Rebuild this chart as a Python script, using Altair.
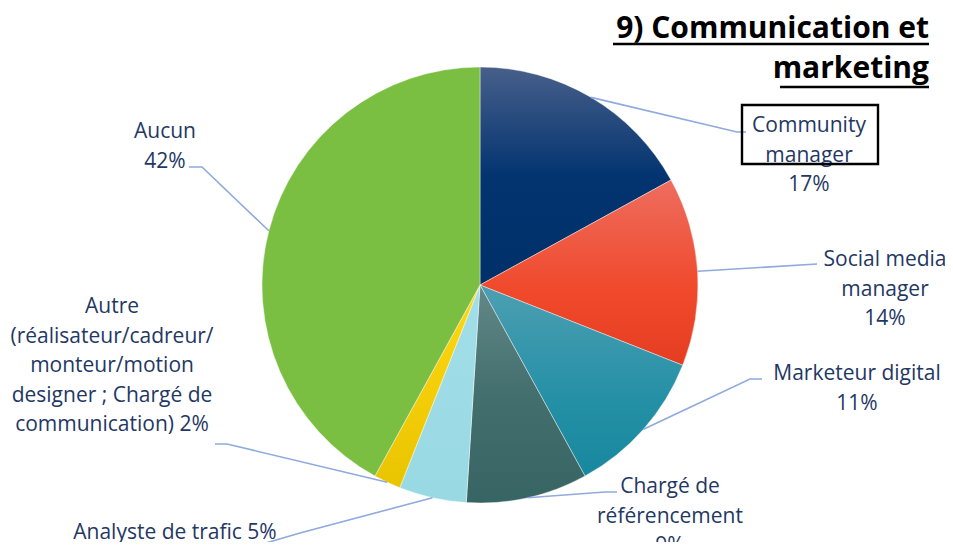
import math
import numpy as np
import pandas as pd
import altair as alt

# ---------------- data ----------------
categories = [
    "Community manager",
    "Social media manager",
    "Marketeur digital",
    "Chargé de référencement",
    "Analyste de trafic",
    "Autre (réalisateur/cadreur/monteur/motion designer ; Chargé de communication)",
    "Aucun",
]
percentages = [17, 14, 11, 9, 5, 2, 42]
label_names = [
    "Community\nmanager",
    "Social media\nmanager",
    "Marketeur digital",
    "Chargé de\nréférencement",
    "Analyste de trafic",
    "Autre\n(réalisateur/cadreur/\nmonteur/motion\ndesigner ; Chargé de\ncommunication)",
    "Aucun",
]
pct_separator = ["\n", "\n", "\n", "\n", " ", " ", "\n"]
title_lines = ["9) Communication et", "marketing"]

# ---------------- styles / layout ----------------
OFF = 8  # page margin
CX, CY, R = 480 - OFF, 285 - OFF, 218
W, H = 937, 534
TEXT_COLOR = "#1F3864"
LEADER_COLOR = "#8FAADC"
FONT = "Open Sans"


def vgrad(stops):
    return {
        "gradient": "linear", "x1": 0, "y1": 0, "x2": 0, "y2": 1,
        "stops": [{"offset": o, "color": c} for o, c in stops],
    }


fills = [
    vgrad([(0, "#475F8A"), (0.5, "#033470"), (1, "#003068")]),
    vgrad([(0, "#EE6D5F"), (0.6, "#F0492B"), (1, "#E43D21")]),
    vgrad([(0, "#4D9FB2"), (0.6, "#2490A6"), (1, "#18889E")]),
    vgrad([(0, "#638888"), (0.5, "#436F6E"), (1, "#376563")]),
    vgrad([(0, "#A2DEE8"), (1, "#98D9E4")]),
    vgrad([(0, "#FFD812"), (1, "#E9C400")]),
    vgrad([(0, "#7ABF42"), (1, "#7ABF42")]),
]

# label anchors (page coordinates: centre x, first baseline y)
label_pos = [(809, 132), (885, 266), (857, 380), (670, 493), (175, 539), (112, 313), (165, 138)]
# leader lines: points after the slice edge (page coordinates)
leader_pts = [
    [(737, 132), (746, 132)],
    [(817, 264)],
    [(750, 379), (762, 379)],
    [(605, 492), (617, 492)],
    [(300, 533), (235, 552)],
    [(227, 444), (215, 444)],
    [(202, 167), (189, 167)],
]

# ---------------- tables ----------------
vals = np.array(percentages, dtype=float)
ends = np.cumsum(vals)
starts = ends - vals
df = pd.DataFrame({
    "category": categories,
    "value": vals,
    "start": starts,
    "end": ends,
    "order": list(range(len(categories))),
})

lab = pd.DataFrame({
    "text": [f"{n}{s}{p}%" for n, s, p in zip(label_names, pct_separator, percentages)],
    "lx": [p[0] - OFF for p in label_pos],
    "ly": [p[1] - OFF for p in label_pos],
})

rows = []
for i in range(len(categories)):
    mid = (starts[i] + ends[i]) / 2 / 100 * 2 * math.pi
    sx = CX + R * math.sin(mid)
    sy = CY - R * math.cos(mid)
    pts = [(sx, sy)] + [(x - OFF, y - OFF) for x, y in leader_pts[i]]
    for k, (x, y) in enumerate(pts):
        rows.append({"seg": i, "k": k, "px": x, "py": y})
lead = pd.DataFrame(rows)

theta_scale = alt.Scale(domain=[0, 100], range=[0, 2 * math.pi])

layers = []
for i in range(len(categories)):
    layers.append(
        alt.Chart(df)
        .transform_filter(alt.datum.order == i)
        .mark_arc(radius=R, fill=fills[i], stroke="#FFFFFF", strokeWidth=0.6, strokeOpacity=0.7)
        .encode(
            theta=alt.Theta("start:Q", scale=theta_scale),
            theta2="end:Q",
            x=alt.value(CX),
            y=alt.value(CY),
            tooltip=["category:N", "value:Q"],
        )
    )

leaders = alt.Chart(lead).mark_line(color=LEADER_COLOR, strokeWidth=1.6).encode(
    x=alt.X("px:Q", scale=None, axis=None),
    y=alt.Y("py:Q", scale=None, axis=None),
    detail="seg:N",
    order="k:Q",
)

labels = alt.Chart(lab).mark_text(
    font=FONT, fontSize=21, color=TEXT_COLOR, align="center",
    baseline="alphabetic", lineBreak="\n", lineHeight=29.5,
).encode(
    x=alt.X("lx:Q", scale=None, axis=None),
    y=alt.Y("ly:Q", scale=None, axis=None),
    text="text:N",
)

box = alt.Chart(pd.DataFrame({"a": [0]})).mark_rect(
    fill=None, stroke="#000000", strokeWidth=2.4
).encode(
    x=alt.value(742 - OFF), x2=alt.value(878 - OFF),
    y=alt.value(105 - OFF), y2=alt.value(164 - OFF),
)

title = alt.Chart(pd.DataFrame({"t": ["\n".join(title_lines)]})).mark_text(
    font=FONT, fontSize=30, fontWeight="bold", color="#000000", align="right",
    baseline="alphabetic", lineBreak="\n", lineHeight=40,
).encode(
    x=alt.value(929 - OFF), y=alt.value(38 - OFF), text="t:N",
)

underline1 = alt.Chart(pd.DataFrame({"a": [0]})).mark_rule(color="#000000", strokeWidth=2.6).encode(
    x=alt.value(613 - OFF), x2=alt.value(929 - OFF), y=alt.value(44 - OFF)
)
underline2 = alt.Chart(pd.DataFrame({"a": [0]})).mark_rule(color="#000000", strokeWidth=2.6).encode(
    x=alt.value(780 - OFF), x2=alt.value(929 - OFF), y=alt.value(87 - OFF)
)

chart = alt.layer(*layers, leaders, labels, box, title, underline1, underline2).properties(
    width=W, height=H, autosize="none", padding=0
).configure_view(stroke=None)

chart.save("out.html", embed_options={"renderer": "svg", "actions": False})
